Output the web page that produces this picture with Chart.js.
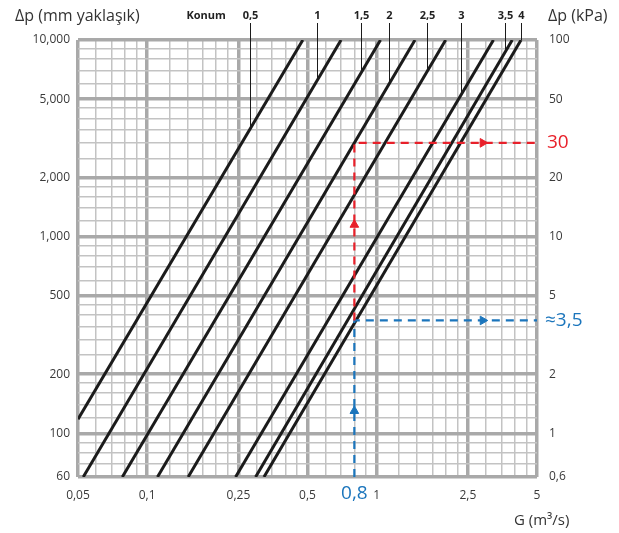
<!DOCTYPE html>
<html><head><meta charset="utf-8">
<script src="https://cdn.jsdelivr.net/npm/chart.js@4.4.1/dist/chart.umd.min.js"></script>
<style>html,body{margin:0;padding:0;background:#fff}canvas{display:block}</style>
</head><body>
<canvas id="c" width="619" height="533"></canvas>
<script>
// ---- data ----
const positions     = ['0,5','1','1,5','2','2,5','3','3,5','4'];
const flowAtBottom  = [0.05, 0.0527, 0.078, 0.111, 0.151, 0.243, 0.297, 0.323];   // m3/s
const dpAtBottom    = [118, 60, 60, 60, 60, 60, 60, 60];                           // mm
const flowAtTop     = [0.477, 0.700, 1.04, 1.47, 2.00, 3.23, 3.90, 4.26];          // m3/s
const dpAtTop       = [10000, 10000, 10000, 10000, 10000, 10000, 10000, 10000];    // mm
const labelFlow     = [0.281, 0.550, 0.855, 1.133, 1.66, 2.33, 3.63, 4.26];        // where each position label's leader meets its line

const xMajorTicks   = [0.05, 0.1, 0.25, 0.5, 1, 2.5, 5];
const xTickLabels   = ['0,05','0,1','0,25','0,5','1','2,5','5'];
const xMinorTicks   = [0.06,0.07,0.08,0.09,0.125,0.15,0.175,0.2,0.225,0.3,0.35,0.4,0.45,0.6,0.7,0.8,0.9,1.25,1.5,1.75,2,2.25,3,3.5,4,4.5];
const yMajorTicks   = [60, 100, 200, 500, 1000, 2000, 5000, 10000];
const yTickLabels   = ['60','100','200','500','1,000','2,000','5,000','10,000'];
const yMinorTicks   = [70,80,90,120,140,160,180,250,300,350,400,450,600,700,800,900,1200,1400,1600,1800,2500,3000,3500,4000,4500,6000,7000,8000,9000];
const kPaTicks      = [0.6, 1, 2, 5, 10, 20, 50, 100];
const kPaTickLabels = ['0,6','1','2','5','10','20','50','100'];

const exampleFlow   = 0.8;
const exampleDpHigh = 3000;   // mm  (30 kPa)
const exampleDpLow  = 375;    // mm  (≈3,5 kPa)
const arrowDpRed    = 1150;
const arrowDpBlue   = 130;
const arrowFlow     = 2.9;
const flowMax       = 5;
const dpMin         = 60;

// ---- helpers ----
const FONT = "'Open Sans', 'DejaVu Sans', sans-serif";
const near = (a, b) => Math.abs(a - b) / b < 1e-6;
const isIn = (v, arr) => arr.some(t => near(v, t));
const RED = '#e8202a', BLUE = '#1b75bc';

const curveSets = positions.map((p, i) => ({
  label: 'Konum ' + p,
  data: [{x: flowAtBottom[i], y: dpAtBottom[i]}, {x: flowAtTop[i], y: dpAtTop[i]}],
  showLine: true, borderColor: '#1b1b1b', borderWidth: 3, pointRadius: 0, order: 2
}));

const guideSets = [
  { label: 'red', data: [{x: exampleFlow, y: exampleDpLow}, {x: exampleFlow, y: exampleDpHigh}, {x: flowMax, y: exampleDpHigh}],
    showLine: true, borderColor: RED, borderWidth: 2.2, borderDash: [8, 6], pointRadius: 0, order: 1 },
  { label: 'blue', data: [{x: exampleFlow, y: dpMin}, {x: exampleFlow, y: exampleDpLow}, {x: flowMax, y: exampleDpLow}],
    showLine: true, borderColor: BLUE, borderWidth: 2.2, borderDash: [8, 6], pointRadius: 0, order: 1 },
  { label: 'redArrows', data: [{x: exampleFlow, y: arrowDpRed}, {x: arrowFlow, y: exampleDpHigh}],
    showLine: false, pointStyle: 'triangle', pointRadius: 5, rotation: [0, 90],
    backgroundColor: RED, borderColor: RED, borderWidth: 1, order: 0 },
  { label: 'blueArrows', data: [{x: exampleFlow, y: arrowDpBlue}, {x: arrowFlow, y: exampleDpLow}],
    showLine: false, pointStyle: 'triangle', pointRadius: 5, rotation: [0, 90],
    backgroundColor: BLUE, borderColor: BLUE, borderWidth: 1, order: 0 }
];

function curveDp(i, g) {
  const s = Math.log(dpAtTop[i] / dpAtBottom[i]) / Math.log(flowAtTop[i] / flowAtBottom[i]);
  return dpAtBottom[i] * Math.pow(g / flowAtBottom[i], s);
}

const annot = {
  id: 'annot',
  afterDatasetsDraw(chart) {
    const ctx = chart.ctx, xs = chart.scales.x, ys = chart.scales.y, y2 = chart.scales.y2;
    ctx.save();
    // leader lines + position labels
    ctx.strokeStyle = '#1b1b1b'; ctx.lineWidth = 1;
    ctx.fillStyle = '#222'; ctx.textAlign = 'center'; ctx.textBaseline = 'middle';
    ctx.font = "bold 11px " + FONT;
    positions.forEach((p, i) => {
      const px = Math.round(xs.getPixelForValue(labelFlow[i])) + 0.5;
      const py = ys.getPixelForValue(Math.min(curveDp(i, labelFlow[i]), 10000));
      ctx.beginPath(); ctx.moveTo(px, 23); ctx.lineTo(px, py); ctx.stroke();
      ctx.fillText(p, px, 16);
    });
    const x05 = xs.getPixelForValue(labelFlow[0]);
    ctx.fillText('Konum', x05 - 44, 16);
    // axis titles
    ctx.font = "16px " + FONT; ctx.fillStyle = '#333'; ctx.textAlign = 'left';
    ctx.fillText('Δp (mm yaklaşık)', 15, 16);
    ctx.fillText('Δp (kPa)', 548, 16);
    ctx.font = "15px " + FONT;
    ctx.fillText('G (m³/s)', 514, 521);
    // example values
    ctx.font = "19px " + FONT;
    ctx.fillStyle = RED;
    ctx.fillText('30', 547, y2.getPixelForValue(exampleDpHigh / 100));
    ctx.fillStyle = BLUE;
    ctx.fillText('≈3,5', 545, y2.getPixelForValue(exampleDpLow / 100));
    ctx.textAlign = 'center';
    ctx.fillText('0,8', xs.getPixelForValue(exampleFlow), 494);
    ctx.restore();
  }
};

const gridColor = (major) => (ctx) => isIn(ctx.tick.value, major) ? '#a9a9a9' : '#c3c3c3';
const gridWidth = (major) => (ctx) => isIn(ctx.tick.value, major) ? 3.5 : 1.5;

new Chart(document.getElementById('c'), {
  type: 'scatter',
  data: { datasets: [...guideSets, ...curveSets] },
  plugins: [annot],
  options: {
    responsive: false, animation: false, devicePixelRatio: 1,
    layout: { padding: { top: 40, left: 0, right: 0, bottom: 0 } },
    plugins: { legend: { display: false }, tooltip: { enabled: false } },
    scales: {
      x: {
        type: 'logarithmic', position: 'bottom', min: 0.05, max: 5,
        afterBuildTicks: s => { s.ticks = [...xMajorTicks, ...xMinorTicks].sort((a, b) => a - b).map(v => ({ value: v })); },
        afterFit: s => { s.height = 56; },
        ticks: {
          autoSkip: false, maxRotation: 0, padding: 11, color: '#3a3a3a', font: { family: FONT, size: 12 },
          callback: v => { const k = xMajorTicks.findIndex(t => near(v, t)); return k >= 0 ? xTickLabels[k] : ''; }
        },
        grid: { color: gridColor(xMajorTicks), lineWidth: gridWidth(xMajorTicks), drawTicks: false },
        border: { display: false }
      },
      y: {
        type: 'logarithmic', position: 'left', min: 60, max: 10000,
        afterBuildTicks: s => { s.ticks = [...yMajorTicks, ...yMinorTicks].sort((a, b) => a - b).map(v => ({ value: v })); },
        afterFit: s => { s.width = 78; },
        ticks: {
          autoSkip: false, padding: 8, color: '#3a3a3a', font: { family: FONT, size: 12 },
          callback: v => { const k = yMajorTicks.findIndex(t => near(v, t)); return k >= 0 ? yTickLabels[k] : ''; }
        },
        grid: { color: gridColor(yMajorTicks), lineWidth: gridWidth(yMajorTicks), drawTicks: false },
        border: { display: false }
      },
      y2: {
        type: 'logarithmic', position: 'right', min: 0.6, max: 100,
        afterBuildTicks: s => { s.ticks = kPaTicks.map(v => ({ value: v })); },
        afterFit: s => { s.width = 82; },
        ticks: {
          autoSkip: false, padding: 12, color: '#3a3a3a', font: { family: FONT, size: 12 },
          callback: v => { const k = kPaTicks.findIndex(t => near(v, t)); return k >= 0 ? kPaTickLabels[k] : ''; }
        },
        grid: { display: false, drawTicks: false },
        border: { display: false }
      }
    }
  }
});
</script>
</body></html>
